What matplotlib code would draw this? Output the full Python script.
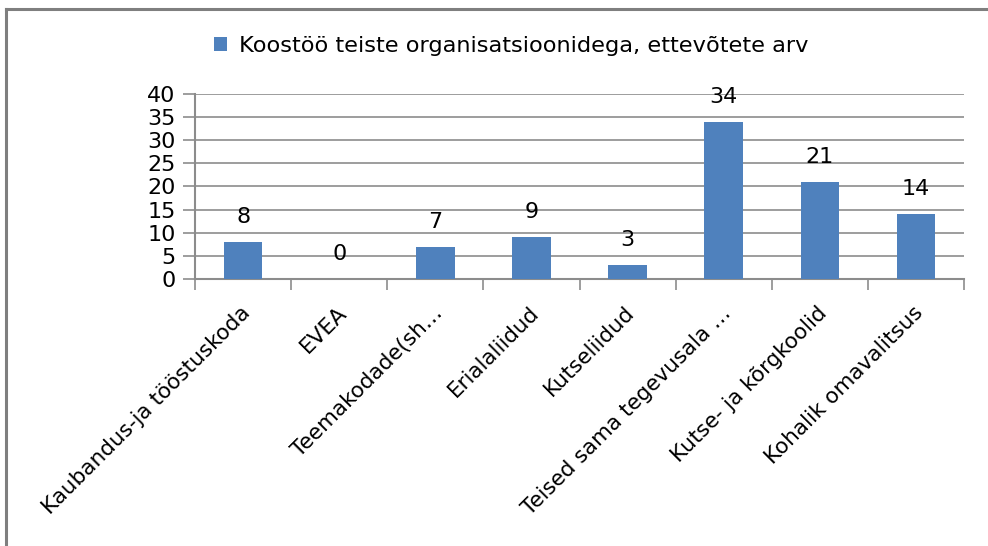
import matplotlib
matplotlib.use("Agg")
import matplotlib.pyplot as plt
from matplotlib.lines import Line2D
from matplotlib.patches import Patch

categories = ["Kaubandus-ja tööstuskoda", "EVEA", "Teemakodade(sh…", "Erialaliidud",
              "Kutseliidud", "Teised sama tegevusala …", "Kutse- ja kõrgkoolid",
              "Kohalik omavalitsus"]
values = [8, 0, 7, 9, 3, 34, 21, 14]
series_name = "Koostöö teiste organisatsioonidega, ettevõtete arv"
yticks = [0, 5, 10, 15, 20, 25, 30, 35, 40]

W, H = 988, 546
fig = plt.figure(figsize=(W / 100, H / 100), dpi=100)
fig.patch.set_facecolor("white")
font = "DejaVu Sans"

# outer chart border (top and left visible)
fig.add_artist(Line2D([5.5 / W, 5.5 / W], [0, 1 - 8.5 / H], transform=fig.transFigure,
                      color="#7f7f7f", lw=2.2))
fig.add_artist(Line2D([5.5 / W, 1], [1 - 8.5 / H, 1 - 8.5 / H], transform=fig.transFigure,
                      color="#7f7f7f", lw=2.2))

left, right, top, bottom = 195, 964, 94, 279
ax = fig.add_axes([left / W, 1 - bottom / H, (right - left) / W, (bottom - top) / H])
x = list(range(len(categories)))
bars = ax.bar(x, values, width=0.4, color="#4F81BD", zorder=3)
ax.set_xlim(-0.5, len(categories) - 0.5)
ax.set_ylim(0, 40)
ax.set_yticks(yticks)
ax.set_yticklabels([str(t) for t in yticks], fontsize=16, fontfamily=font)
ax.yaxis.grid(True, color="#8c8c8c", lw=1.2, zorder=0)
ax.set_axisbelow(True)
for s in ["top", "right"]:
    ax.spines[s].set_visible(False)
ax.spines["left"].set_color("#8c8c8c")
ax.spines["left"].set_linewidth(1.5)
ax.spines["bottom"].set_color("#8c8c8c")
ax.spines["bottom"].set_linewidth(1.5)
ax.tick_params(axis="y", length=9, color="#8c8c8c", width=1.2, pad=5)
# category boundary ticks
ax.set_xticks([i - 0.5 for i in range(len(categories) + 1)])
ax.set_xticklabels([])
ax.tick_params(axis="x", length=8, color="#8c8c8c", width=1.2)
for i, c in enumerate(categories):
    ax.annotate(c, xy=(i, 0), xycoords=("data", "axes fraction"),
                xytext=(3, -22), textcoords="offset points", rotation=45,
                rotation_mode="anchor", ha="right", va="center",
                fontsize=15.5, fontfamily=font, color="black")
for i, v in enumerate(values):
    ax.annotate(str(v), xy=(i, v), xytext=(0, 18), textcoords="offset points",
                ha="center", va="center", fontsize=16, fontfamily=font, color="black")

handle = Patch(facecolor="#4F81BD", edgecolor="none")
fig.legend([handle], [series_name], loc="center", bbox_to_anchor=(511 / W, 1 - 46 / H),
           frameon=False, prop={"family": font, "size": 16.2},
           handlelength=0.6, handleheight=0.6, handletextpad=0.5)

fig.savefig("out.png", dpi=100, facecolor="white")
